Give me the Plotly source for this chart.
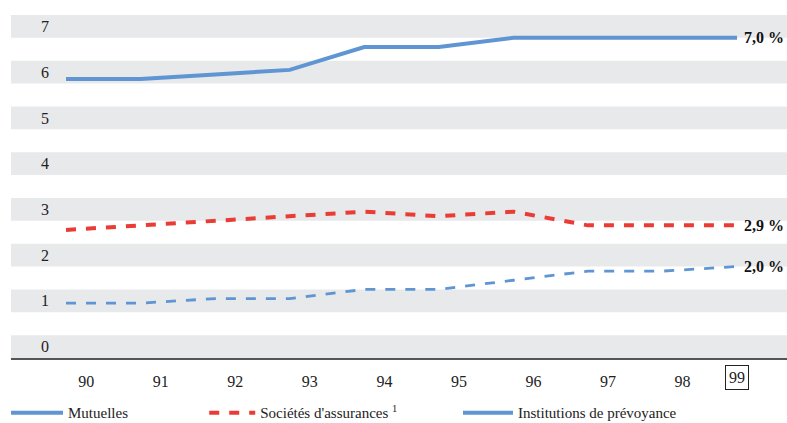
import plotly.graph_objects as go

# Years (tick labels) and the three series, in %
years = ["90", "91", "92", "93", "94", "95", "96", "97", "98", "99"]
institutions = [6.1, 6.1, 6.2, 6.3, 6.8, 6.8, 7.0, 7.0, 7.0, 7.0]
societes = [2.8, 2.9, 3.0, 3.1, 3.2, 3.1, 3.2, 2.9, 2.9, 2.9]
mutuelles = [1.2, 1.2, 1.3, 1.3, 1.5, 1.5, 1.7, 1.9, 1.9, 2.0]
y_ticks = [0, 1, 2, 3, 4, 5, 6, 7]

BLUE = "#5e95d2"
RED = "#ea3b35"
BAND = "#e8e9eb"
SERIF = "'Liberation Serif', 'DejaVu Serif', 'Times New Roman', serif"

x = list(range(len(years)))

fig = go.Figure()

fig.add_trace(go.Scatter(
    x=x, y=institutions, mode="lines", name="Institutions de prévoyance",
    line=dict(color=BLUE, width=4), legend="legend3"))
fig.add_trace(go.Scatter(
    x=x, y=societes, mode="lines", name="Sociétés d'assurances <sup>1</sup>",
    line=dict(color=RED, width=4, dash="10px,10px"), legend="legend2"))
fig.add_trace(go.Scatter(
    x=x, y=mutuelles, mode="lines", name="Mutuelles", showlegend=False,
    line=dict(color=BLUE, width=2.8, dash="10px,10px")))
# legend key for Mutuelles is drawn as a solid line
fig.add_trace(go.Scatter(
    x=[None], y=[None], mode="lines", name="Mutuelles",
    line=dict(color=BLUE, width=4), legend="legend"))

# alternating horizontal bands: each integer value k gets a band [k, k+0.5]
for k in y_ticks:
    fig.add_shape(type="rect", xref="paper", yref="y", x0=0, x1=1,
                  y0=k, y1=k + 0.5, fillcolor=BAND, line_width=0,
                  layer="below")

# end-of-line value labels
for series, lab in zip([institutions, societes, mutuelles],
                       ["7,0 %", "2,9 %", "2,0 %"]):
    fig.add_annotation(x=x[-1], y=series[-1], text=f"<b>{lab}</b>",
                       showarrow=False, xanchor="left", xshift=5,
                       font=dict(family=SERIF, size=16, color="#111"))

# year labels sit a little to the right of each point; the last one is boxed
tick_pos = [i + 0.27 for i in x[:-1]]
fig.add_annotation(x=x[-1] + 0.0, y=0, yref="paper", yanchor="top",
                   yshift=-7, text=years[-1], showarrow=False,
                   bordercolor="#222", borderwidth=1, borderpad=3,
                   font=dict(family=SERIF, size=16, color="#222"))

legend_style = dict(orientation="h", xanchor="left", y=-0.16,
                    yanchor="middle",
                    font=dict(family=SERIF, size=15, color="#222"),
                    bgcolor="rgba(0,0,0,0)")

fig.update_layout(
    width=787, height=423,
    margin=dict(l=11, r=0, t=15, b=65, autoexpand=False),
    plot_bgcolor="white", paper_bgcolor="white",
    font=dict(family=SERIF, size=16, color="#222"),
    xaxis=dict(range=[-0.738, 9.67], tickmode="array", tickvals=tick_pos,
               ticktext=years[:-1], showgrid=False, zeroline=False,
               showline=True, linecolor="#555", linewidth=1.5,
               ticks="", ticklabelstandoff=8,
               tickfont=dict(family=SERIF, size=16, color="#222")),
    yaxis=dict(range=[0, 7.5], tickmode="array",
               tickvals=[k + 0.25 for k in y_ticks],
               ticktext=[str(k) for k in y_ticks],
               showgrid=False, zeroline=False, showline=False, ticks="",
               ticklabelposition="inside", ticklabelstandoff=27,
               tickfont=dict(family=SERIF, size=16, color="#222")),
    legend=dict(x=-0.0064, itemwidth=52, **legend_style),
    legend2=dict(x=0.249, itemwidth=46, **legend_style),
    legend3=dict(x=0.576, itemwidth=50, **legend_style),
)

fig.write_html("out.html")
